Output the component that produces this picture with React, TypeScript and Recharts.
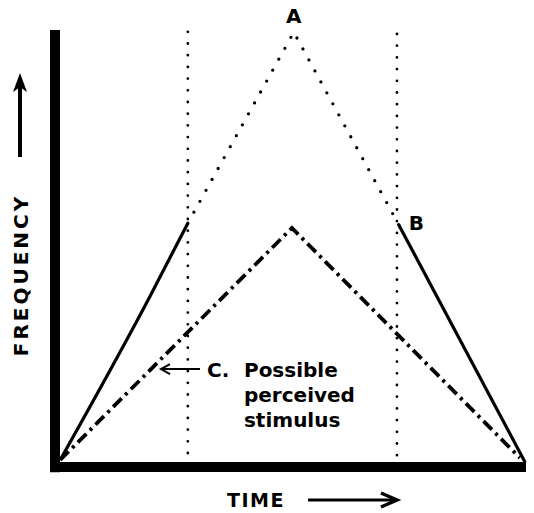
import React from 'react';
import { LineChart, Line, XAxis, YAxis, ReferenceLine, ReferenceDot, Label } from 'recharts';

// values, time and frequency both on a 0-100 scale
const risePoints = [
  { x: 1.1, y: 1.6 },
  { x: 20.1, y: 38.9 },
  { x: 28.2, y: 55.8 },
];
const fallPoints = [
  { x: 73.0, y: 55.4 },
  { x: 99.8, y: 1.1 },
];
const stimulusA = [
  { x: 28.2, y: 55.8 },
  { x: 50.7, y: 99.5 },
  { x: 73.0, y: 55.4 },
];
const perceivedC = [
  { x: 1.1, y: 1.6 },
  { x: 50.3, y: 54.7 },
  { x: 98.7, y: 2.1 },
];
const leftMarker = [
  { x: 28.2, y: 3.2 },
  { x: 28.2, y: 100 },
];
const rightMarker = [
  { x: 72.6, y: 2.7 },
  { x: 72.6, y: 100 },
];
const peakA = { x: 50.7, y: 99.5, text: 'A' };
const pointB = { x: 73.0, y: 55.4, text: 'B' };
const arrowC = { x: 22.5, y: 22.4 };
const captionC = ['Possible', 'perceived', 'stimulus'];

const FONT = '"DejaVu Sans", sans-serif';

const TimeTitle = (props: any) => {
  const { x, y } = props.viewBox;
  const ay = y + 33;
  return (
    <g>
      <text x={x + 172} y={y + 40} fontFamily={FONT} fontWeight="bold" fontSize={19} letterSpacing={1.5} fill="#000">
        TIME
      </text>
      <line x1={x + 253} y1={ay} x2={x + 340} y2={ay} stroke="#000" strokeWidth={3} />
      <polyline
        points={`${x + 326},${ay - 7} ${x + 342},${ay} ${x + 326},${ay + 7}`}
        fill="none"
        stroke="#000"
        strokeWidth={3.5}
      />
    </g>
  );
};

const FreqTitle = (props: any) => {
  const { y } = props.viewBox;
  const cy = y + 245;
  return (
    <g>
      <text
        x={28}
        y={cy}
        transform={`rotate(-90 28 ${cy})`}
        textAnchor="middle"
        fontFamily={FONT}
        fontWeight="bold"
        fontSize={20}
        letterSpacing={3}
        fill="#000"
      >
        FREQUENCY
      </text>
      <line x1={20} y1={y + 127} x2={20} y2={y + 55} stroke="#000" strokeWidth={4} />
      <path d={`M20,${y + 43} L27,${y + 62} L20,${y + 57} L13,${y + 62} Z`} fill="#000" />
    </g>
  );
};

const LetterMark = (dx: number, dy: number, anchor: string) => (p: any) => (
  <text
    x={p.cx + dx}
    y={p.cy + dy}
    textAnchor={anchor}
    fontFamily={FONT}
    fontWeight="bold"
    fontSize={20}
    fill="#000"
  >
    {p.text}
  </text>
);

const CaptionMark = (p: any) => {
  const { cx, cy } = p;
  return (
    <g>
      <line x1={cx + 1} y1={cy} x2={cx + 39} y2={cy} stroke="#000" strokeWidth={2} />
      <polyline points={`${cx + 9},${cy - 5} ${cx},${cy} ${cx + 9},${cy + 5}`} fill="none" stroke="#000" strokeWidth={2} />
      <g fontFamily={FONT} fontWeight="bold" fontSize={20} fill="#000">
        <text x={cx + 46} y={cy + 8}>C.</text>
        {captionC.map((line, i) => (
          <text key={line} x={cx + 83} y={cy + 8 + i * 25}>
            {line}
          </text>
        ))}
      </g>
    </g>
  );
};

export default function App() {
  return (
    <div style={{ position: 'absolute', left: 0, top: 0, background: '#fff' }}>
      <LineChart width={534} height={513} margin={{ top: 30, right: 8, bottom: 0, left: 0 }}>
        <XAxis
          type="number"
          dataKey="x"
          domain={[0, 100]}
          tick={false}
          tickLine={false}
          height={46}
          axisLine={{ stroke: '#000', strokeWidth: 10 }}
        >
          <Label content={TimeTitle} />
        </XAxis>
        <YAxis type="number" dataKey="y" domain={[0, 100]} tick={false} tickLine={false} width={55} axisLine={false}>
          <Label content={FreqTitle} />
        </YAxis>
        <ReferenceLine
          segment={[{ x: 0, y: -1.2 }, { x: 0, y: 100 }]}
          stroke="#000"
          strokeWidth={10}
          ifOverflow="visible"
        />
        <Line data={leftMarker} dataKey="y" stroke="#000" strokeWidth={2.8} strokeDasharray="0 11.7" strokeLinecap="round" dot={false} isAnimationActive={false} />
        <Line data={rightMarker} dataKey="y" stroke="#000" strokeWidth={2.8} strokeDasharray="0 11.7" strokeLinecap="round" dot={false} isAnimationActive={false} />
        <Line data={stimulusA} dataKey="y" stroke="#000" strokeWidth={3.3} strokeDasharray="0 12.5" strokeLinecap="round" dot={false} isAnimationActive={false} />
        <Line data={perceivedC} dataKey="y" stroke="#000" strokeWidth={3.8} strokeDasharray="12 5 3 5" dot={false} isAnimationActive={false} />
        <Line data={risePoints} dataKey="y" type="monotone" stroke="#000" strokeWidth={3.2} dot={false} isAnimationActive={false} />
        <Line data={fallPoints} dataKey="y" stroke="#000" strokeWidth={3.2} dot={false} isAnimationActive={false} />
        <ReferenceDot x={peakA.x} y={peakA.y} r={0} shape={(p: any) => LetterMark(0, -9, 'middle')({ ...p, text: peakA.text })} />
        <ReferenceDot x={pointB.x} y={pointB.y} r={0} shape={(p: any) => LetterMark(10, 5, 'start')({ ...p, text: pointB.text })} />
        <ReferenceDot x={arrowC.x} y={arrowC.y} r={0} shape={CaptionMark} />
      </LineChart>
    </div>
  );
}
